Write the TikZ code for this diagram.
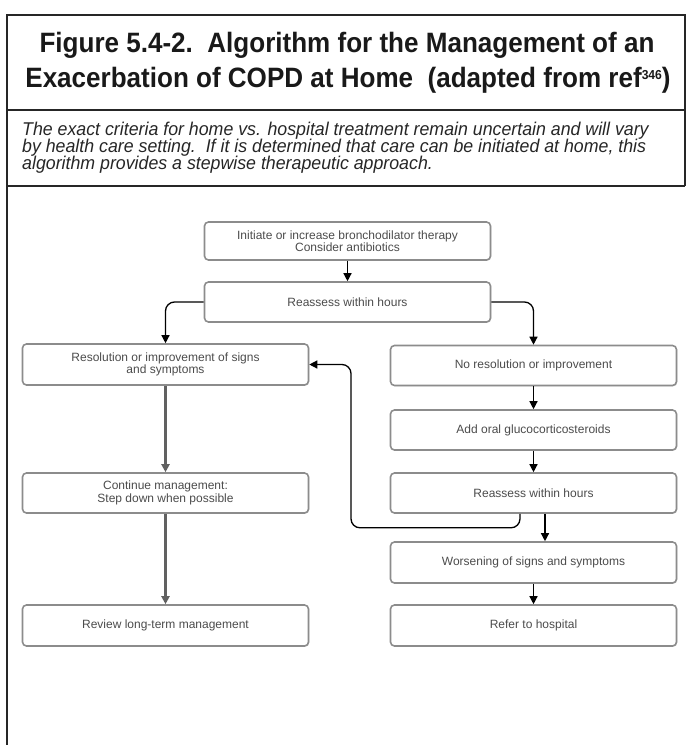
\documentclass[tikz,border=0pt]{standalone}
\usepackage{fontspec}
\setmainfont{Liberation Sans}
\newfontfamily\titlefont[FakeStretch=0.93]{Liberation Sans}
\newfontfamily\subfont[FakeStretch=0.96]{Liberation Sans}
\usetikzlibrary{arrows.meta,shadows}
\begin{document}
\begin{tikzpicture}[x=1pt,y=-1pt,
  box/.style={draw=black!45, line width=1.6pt, rounded corners=4pt, fill=white,
    drop shadow={shadow xshift=0.8pt, shadow yshift=-0.8pt, opacity=0.25},
    minimum width=286pt, text=black!70, font=\fontsize{12}{12.5}\selectfont,
    align=center, inner sep=0pt},
  arr/.style={-{Triangle[length=8pt,width=8pt]}, line width=1.3pt, black},
  garr/.style={-{Triangle[length=8pt,width=8pt]}, line width=2.2pt, black!62},
  frameline/.style={line width=2.3pt, black!85},
  titletext/.style={font=\titlefont\fontsize{28}{30}\selectfont\bfseries, text=black!90, anchor=base, inner sep=0pt},
  subtext/.style={font=\subfont\fontsize{18.5}{17}\selectfont\itshape, text=black!85, anchor=base west, inner sep=0pt}]
\useasboundingbox (0,0) rectangle (688,745);

% frame
\draw[frameline] (7,745) -- (7,15) -- (685,15) -- (685,186);
\draw[frameline] (7,110) -- (685,110);
\draw[frameline] (7,186) -- (685,186);

% title and subtitle
\node[titletext] (t1) at (347,52) {Figure 5.4-2.\ \ Algorithm for the Management of an};
\node[titletext] (t2) at (348,87) {Exacerbation of COPD at Home\ \ (adapted from ref\raisebox{8pt}{\fontsize{13}{13}\selectfont 346})};
\node[subtext] (s1) at (22,135) {The exact criteria for home vs. hospital treatment remain uncertain and will vary};
\node[subtext] (s2) at (22,152) {by health care setting.\ \ If it is determined that care can be initiated at home, this};
\node[subtext] (s3) at (22,169) {algorithm provides a stepwise therapeutic approach.};

% boxes
\node[box, minimum height=38pt] (init) at (347.5,241) {Initiate or increase bronchodilator therapy\\Consider antibiotics};
\node[box, minimum height=40pt] (reassess1) at (347.5,302) {Reassess within hours};
\node[box, minimum height=41pt] (resol) at (165.5,364.5) {Resolution or improvement of signs\\and symptoms};
\node[box, minimum height=40pt] (nores) at (533.5,365.5) {No resolution or improvement};
\node[box, minimum height=40pt] (addoral) at (533.5,430) {Add oral glucocorticosteroids};
\node[box, minimum height=40pt] (reassess2) at (533.5,493) {Reassess within hours};
\node[box, minimum height=40pt] (contin) at (165.5,493) {Continue management:\\Step down when possible};
\node[box, minimum height=41pt] (worsen) at (533.5,562.5) {Worsening of signs and symptoms};
\node[box, minimum height=41pt] (refer) at (533.5,625.5) {Refer to hospital};
\node[box, minimum height=41pt] (review) at (165.5,625.5) {Review long-term management};

% connectors
\draw[arr] (init) -- (reassess1);
\draw[arr, rounded corners=9pt] (reassess1.west) -| (resol.north);
\draw[arr, rounded corners=9pt] (reassess1.east) -| (nores.north);
\draw[garr] (resol) -- (contin);
\draw[garr] (contin) -- (review);
\draw[arr] (nores) -- (addoral);
\draw[arr] (addoral) -- (reassess2);
\coordinate (loopx) at (351,0);
\draw[arr, rounded corners=9pt] ([xshift=-13.5pt]reassess2.south) -- ++(0,14) -| (loopx |- resol.east) -- (resol.east);
\draw[arr] ([xshift=11.5pt]reassess2.south) -- ([xshift=11.5pt]worsen.north);
\draw[arr] (worsen) -- (refer);
\end{tikzpicture}
\end{document}
